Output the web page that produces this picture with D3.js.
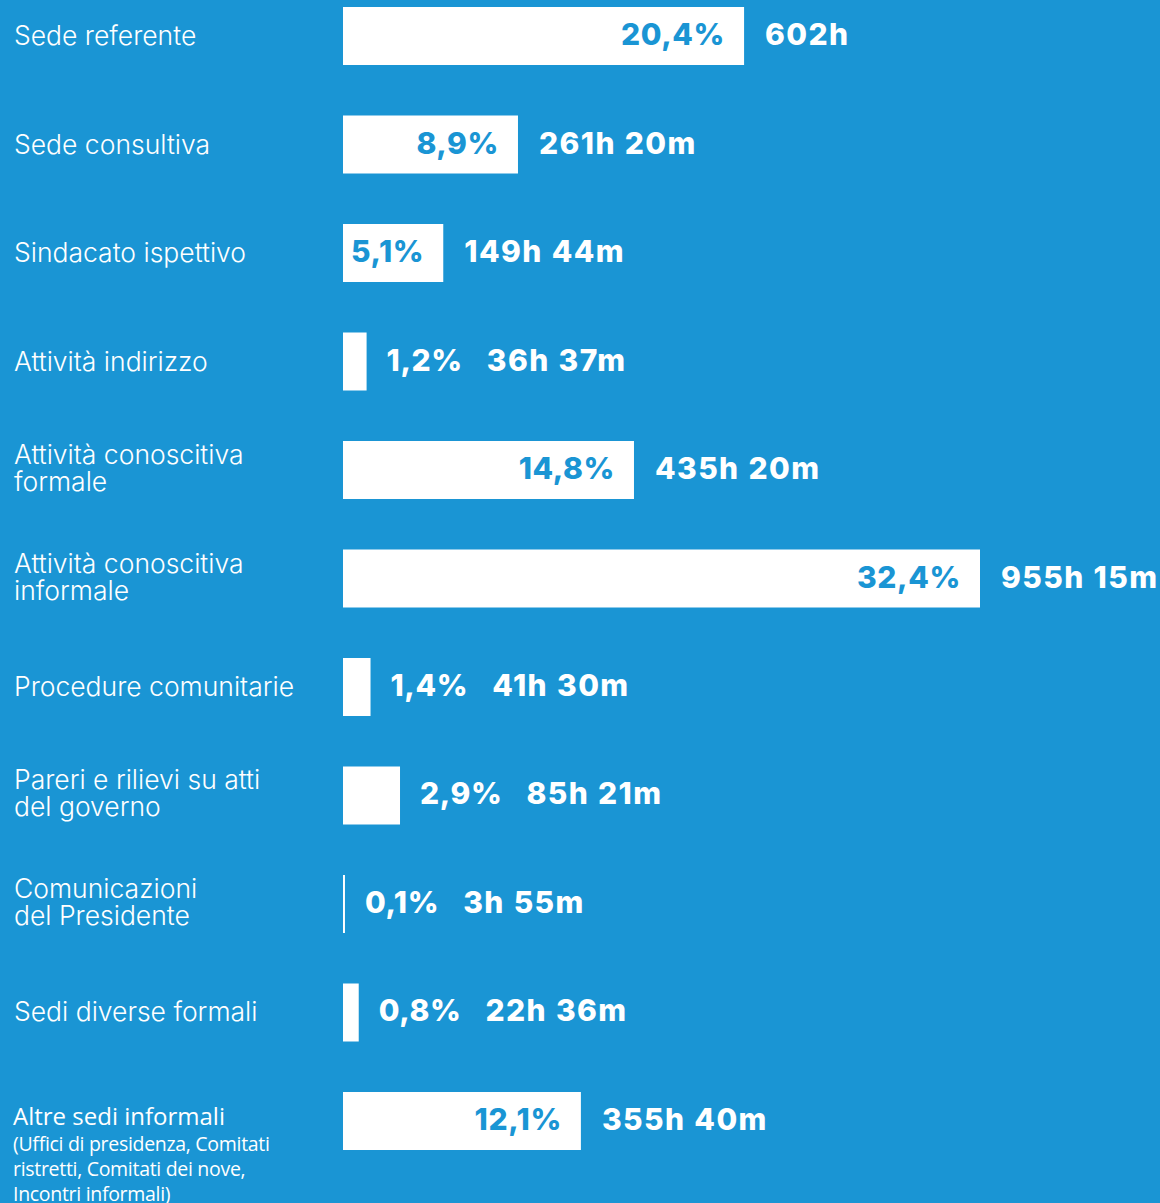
<html>
<head>
  <meta charset="utf-8" />
  <title>Ore per sede</title>
<script src="https://d3js.org/d3.v7.min.js"></script>
</head>
<style>
  body { margin: 0; }
  svg { display: block; }
</style>
<body>
<svg class="main" width="1160" height="1203"></svg>
<script>

// data
var categories = [
  ["Sede referente"],
  ["Sede consultiva"],
  ["Sindacato ispettivo"],
  ["Attività indirizzo"],
  ["Attività conoscitiva", "formale"],
  ["Attività conoscitiva", "informale"],
  ["Procedure comunitarie"],
  ["Pareri e rilievi su atti", "del governo"],
  ["Comunicazioni", "del Presidente"],
  ["Sedi diverse formali"],
  ["Altre sedi informali"]
]
var percentages = [20.4, 8.9, 5.1, 1.2, 14.8, 32.4, 1.4, 2.9, 0.1, 0.8, 12.1]
var hours = ["602h", "261h 20m", "149h 44m", "36h 37m", "435h 20m", "955h 15m",
             "41h 30m", "85h 21m", "3h 55m", "22h 36m", "355h 40m"]
var lastNote = ["(Uffici di presidenza, Comitati", "ristretti, Comitati dei nove,", "Incontri informali)"]

var blue = "#1a95d4"
var it = d3.formatLocale({decimal: ",", thousands: ".", grouping: [3], currency: ["", "€"]})
var fmtPct = function (v) { return it.format(".1f")(v) + "%" }

var svg = d3.select("svg.main")
svg.append("rect").attr("width", 1160).attr("height", 1203).attr("fill", blue)

var data = percentages.map(function (p, i) {
  return {lines: categories[i], pct: p, hours: hours[i], i: i}
})

var x = d3.scaleLinear().domain([0, d3.max(percentages)]).range([343, 980])
var y = d3.scaleBand().domain(d3.range(data.length)).range([7, 1150])
  .paddingInner(0.4654).paddingOuter(0)

var row = svg.append("g").selectAll("g.row")
  .data(data)
  .enter()
  .append("g")
  .attr("class", "row")
  .attr("transform", function (d) { return "translate(0," + (y(d.i) + y.bandwidth() / 2) + ")" })

row.append("rect")
  .attr("x", x(0))
  .attr("y", -y.bandwidth() / 2)
  .attr("width", function (d) { return x(d.pct) - x(0) })
  .attr("height", y.bandwidth())
  .attr("fill", "#fff")

// left labels
var last = data.length - 1
row.filter(function (d) { return d.i !== last })
  .append("text")
  .attr("fill", "#fff")
  .style("font-family", "Inter, sans-serif")
  .style("font-weight", 300)
  .style("font-size", "26.5px")
  .selectAll("tspan")
  .data(function (d) { return d.lines.map(function (l, k) { return {t: l, k: k, n: d.lines.length} }) })
  .enter()
  .append("tspan")
  .attr("x", 14)
  .attr("y", function (l) { return l.n === 1 ? 9 : -6 + l.k * 27 })
  .text(function (l) { return l.t })

var lastRow = row.filter(function (d) { return d.i === last })
var lt = lastRow.append("text")
  .attr("fill", "#fff")
  .style("font-family", "'Open Sans', sans-serif")
lt.append("tspan").attr("x", 13).attr("y", 4).style("font-size", "24px")
  .text(function (d) { return d.lines[0] })
lt.selectAll("tspan.note")
  .data(lastNote)
  .enter()
  .append("tspan")
  .attr("class", "note")
  .attr("x", 13)
  .attr("y", function (n, k) { return 30 + k * 25 })
  .style("font-size", "19.5px")
  .style("letter-spacing", "-0.3px")
  .text(function (n) { return n })

// values
var valueFont = function (sel) {
  return sel.style("font-family", "Inter, sans-serif")
    .style("font-weight", 800)
    .style("font-size", "30px")
    .style("letter-spacing", "0.6px")
    .style("word-spacing", "1px")
    .attr("y", 9)
}

row.each(function (d) {
  var g = d3.select(this)
  var end = x(d.pct)
  var inside = end - x(0) > 80
  var pct = g.append("text").call(valueFont).text(fmtPct(d.pct))
  var nextX
  if (inside) {
    pct.attr("x", end - 19).attr("text-anchor", "end").attr("fill", blue)
    nextX = end + 21
  } else {
    pct.attr("x", end + 20).attr("fill", "#fff")
    nextX = end + 20 + pct.node().getComputedTextLength() + 24
  }
  g.append("text").call(valueFont)
    .attr("x", nextX)
    .attr("fill", "#fff")
    .style("letter-spacing", "1.4px")
    .text(d.hours)
})
</script>
</body>
</html>
